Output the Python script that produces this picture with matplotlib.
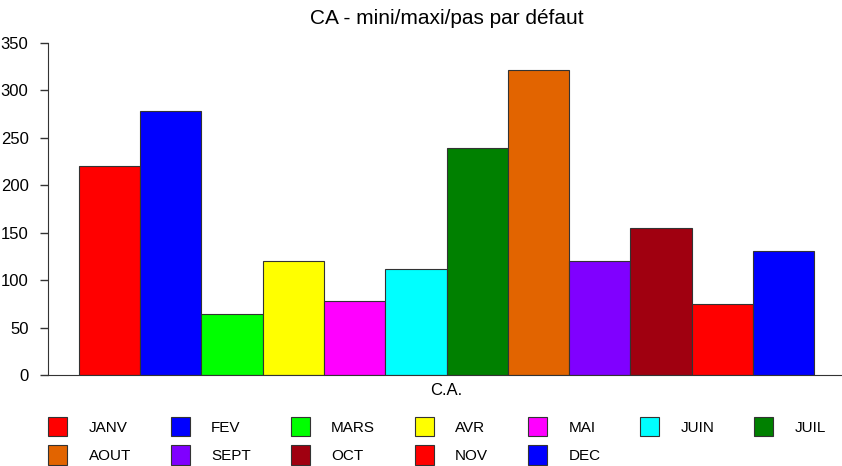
import matplotlib
matplotlib.use("Agg")
import matplotlib.pyplot as plt
import numpy as np

months = ["JANV", "FEV", "MARS", "AVR", "MAI", "JUIN",
          "JUIL", "AOUT", "SEPT", "OCT", "NOV", "DEC"]
values = [220, 278, 64, 120, 78, 112, 239, 322, 120, 155, 75, 131]
colors = ["#FF0000", "#0000FF", "#00FF00", "#FFFF00", "#FF00FF", "#00FFFF",
          "#008000", "#E26400", "#8000FF", "#A00010", "#FF0000", "#0000FF"]
yticks = [0, 50, 100, 150, 200, 250, 300, 350]
category = "C.A."

plt.rcParams["font.family"] = ["Liberation Sans", "DejaVu Sans"]

fig = plt.figure(figsize=(8.42, 4.66), dpi=100)
ax = fig.add_axes([48 / 842, 91 / 466, 797 / 842, 332 / 466])

x = np.arange(len(months))
ax.bar(x, values, width=1.0, color=colors, edgecolor="#333333",
       linewidth=0.8)

ax.set_xlim(-1.0, 12.0)
ax.set_ylim(0, 350)
ax.set_yticks(yticks)
ax.set_yticklabels([str(v) for v in yticks], fontsize=12)
ax.tick_params(axis="y", direction="out", length=6, width=1, pad=8,
               color="#333333")
ax.set_xticks([(len(months) - 1) / 2])
ax.set_xticklabels([category], fontsize=12)
ax.tick_params(axis="x", length=0, pad=6)

for side in ["top", "right"]:
    ax.spines[side].set_visible(False)
ax.spines["left"].set_color("#333333")
ax.spines["bottom"].set_color("#333333")

ax.set_title("CA - mini/maxi/pas par défaut", fontsize=15, pad=14)

# legend fills column by column; reorder so it reads row by row (7 per row)
ncol = 7
handles = [plt.Rectangle((0, 0), 1, 1, facecolor=c, edgecolor="#333333",
                         linewidth=0.8) for c in colors]
order = []
for c in range(ncol):
    for r in range(2):
        i = r * ncol + c
        if i < len(months):
            order.append(i)
fig.legend([handles[i] for i in order], [months[i] for i in order],
           loc="upper left", bbox_to_anchor=(0.057, 0.105),
           ncol=ncol, frameon=False, fontsize=11, handlelength=1.25,
           handleheight=1.55, handletextpad=1.4, columnspacing=2.6,
           labelspacing=0.6, borderaxespad=0, borderpad=0)

fig.savefig("out.png", dpi=100)
